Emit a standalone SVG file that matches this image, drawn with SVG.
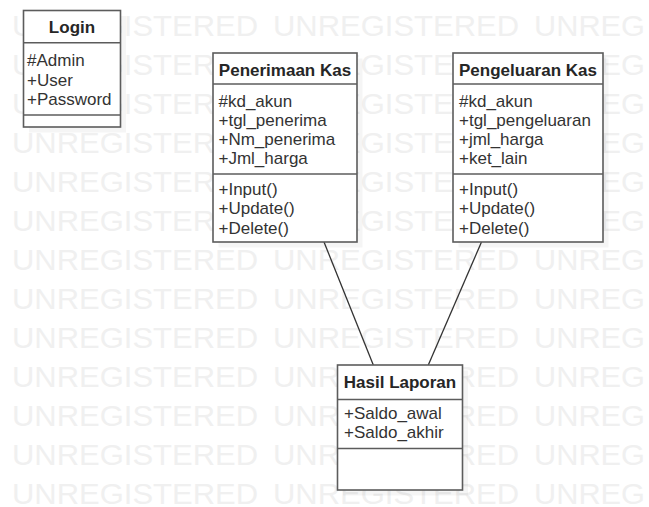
<svg xmlns="http://www.w3.org/2000/svg" width="649" height="507" viewBox="0 0 649 507">
  <style>
    .wm { font-family: "Liberation Sans", Arial, sans-serif; font-size: 30px; fill: #f0f0f0; }
    .box { fill: #ffffff; stroke: #5c5c5c; stroke-width: 1.6; }
    .shadow { fill: #000000; fill-opacity: 0.04; }
    .sep { stroke: #5c5c5c; stroke-width: 1.6; }
    .title { font-family: "Liberation Sans", Arial, sans-serif; font-size: 17px; font-weight: bold; fill: #262626; text-anchor: middle; }
    .item { font-family: "Liberation Sans", Arial, sans-serif; font-size: 17px; fill: #333333; }
    .link { stroke: #333333; stroke-width: 1.3; fill: none; }
  </style>
  <defs>
    <g id="wm-row">
      <text class="wm" x="12" y="0" textLength="246" lengthAdjust="spacingAndGlyphs">UNREGISTERED</text>
      <text class="wm" x="273" y="0" textLength="246" lengthAdjust="spacingAndGlyphs">UNREGISTERED</text>
      <text class="wm" x="534" y="0" textLength="111" lengthAdjust="spacingAndGlyphs">UNREG</text>
    </g>
  </defs>

  <rect x="0" y="0" width="649" height="507" fill="#ffffff"/>

  <!-- background watermark rows -->
  <g id="watermark">
    <use href="#wm-row" y="35.5"/>
    <use href="#wm-row" y="74.5"/>
    <use href="#wm-row" y="113.5"/>
    <use href="#wm-row" y="152.5"/>
    <use href="#wm-row" y="191.5"/>
    <use href="#wm-row" y="230.5"/>
    <use href="#wm-row" y="269.5"/>
    <use href="#wm-row" y="308.5"/>
    <use href="#wm-row" y="347.5"/>
    <use href="#wm-row" y="386.5"/>
    <use href="#wm-row" y="425.5"/>
    <use href="#wm-row" y="464.5"/>
    <use href="#wm-row" y="503.5"/>
  </g>

  <!-- associations -->
  <g id="connectors">
    <line class="link" x1="324" y1="242" x2="373.3" y2="365"/>
    <line class="link" x1="481.5" y1="242" x2="428.3" y2="365"/>
  </g>

  <g id="login">
    <rect class="shadow" x="29" y="16" width="97" height="116.5"/>
    <rect class="box" x="23.5" y="10.5" width="97" height="116.5"/>
    <line class="sep" x1="23.5" y1="42.7" x2="120.5" y2="42.7"/>
    <line class="sep" x1="23.5" y1="115" x2="120.5" y2="115"/>
    <text class="title" x="72" y="32.7">Login</text>
    <text class="item" x="27" y="65.5">#Admin</text>
    <text class="item" x="27" y="85.5">+User</text>
    <text class="item" x="27" y="105">+Password</text>
  </g>

  <g id="penerimaan-kas">
    <rect class="shadow" x="218.5" y="58.5" width="144" height="189"/>
    <rect class="box" x="213" y="53" width="144" height="189"/>
    <line class="sep" x1="213" y1="84" x2="357" y2="84"/>
    <line class="sep" x1="213" y1="174" x2="357" y2="174"/>
    <text class="title" x="285" y="76">Penerimaan Kas</text>
    <text class="item" x="218.5" y="106.5">#kd_akun</text>
    <text class="item" x="218.5" y="125.8">+tgl_penerima</text>
    <text class="item" x="218.5" y="145.1">+Nm_penerima</text>
    <text class="item" x="218.5" y="164.4">+Jml_harga</text>
    <text class="item" x="218.5" y="194.7">+Input()</text>
    <text class="item" x="218.5" y="214.2">+Update()</text>
    <text class="item" x="218.5" y="233.7">+Delete()</text>
  </g>

  <g id="pengeluaran-kas">
    <rect class="shadow" x="458.5" y="58.5" width="150" height="189"/>
    <rect class="box" x="453" y="53" width="150" height="189"/>
    <line class="sep" x1="453" y1="84" x2="603" y2="84"/>
    <line class="sep" x1="453" y1="174" x2="603" y2="174"/>
    <text class="title" x="528" y="76">Pengeluaran Kas</text>
    <text class="item" x="459" y="106.5">#kd_akun</text>
    <text class="item" x="459" y="125.8">+tgl_pengeluaran</text>
    <text class="item" x="459" y="145.1">+jml_harga</text>
    <text class="item" x="459" y="164.4">+ket_lain</text>
    <text class="item" x="459" y="194.7">+Input()</text>
    <text class="item" x="459" y="214.2">+Update()</text>
    <text class="item" x="459" y="233.7">+Delete()</text>
  </g>

  <g id="hasil-laporan">
    <rect class="shadow" x="343" y="370.5" width="125" height="125"/>
    <rect class="box" x="337.5" y="365" width="125" height="125"/>
    <line class="sep" x1="337.5" y1="399.5" x2="462.5" y2="399.5"/>
    <line class="sep" x1="337.5" y1="448.5" x2="462.5" y2="448.5"/>
    <text class="title" x="400" y="388.3">Hasil Laporan</text>
    <text class="item" x="344" y="419">+Saldo_awal</text>
    <text class="item" x="344" y="438.3">+Saldo_akhir</text>
  </g>
</svg>
